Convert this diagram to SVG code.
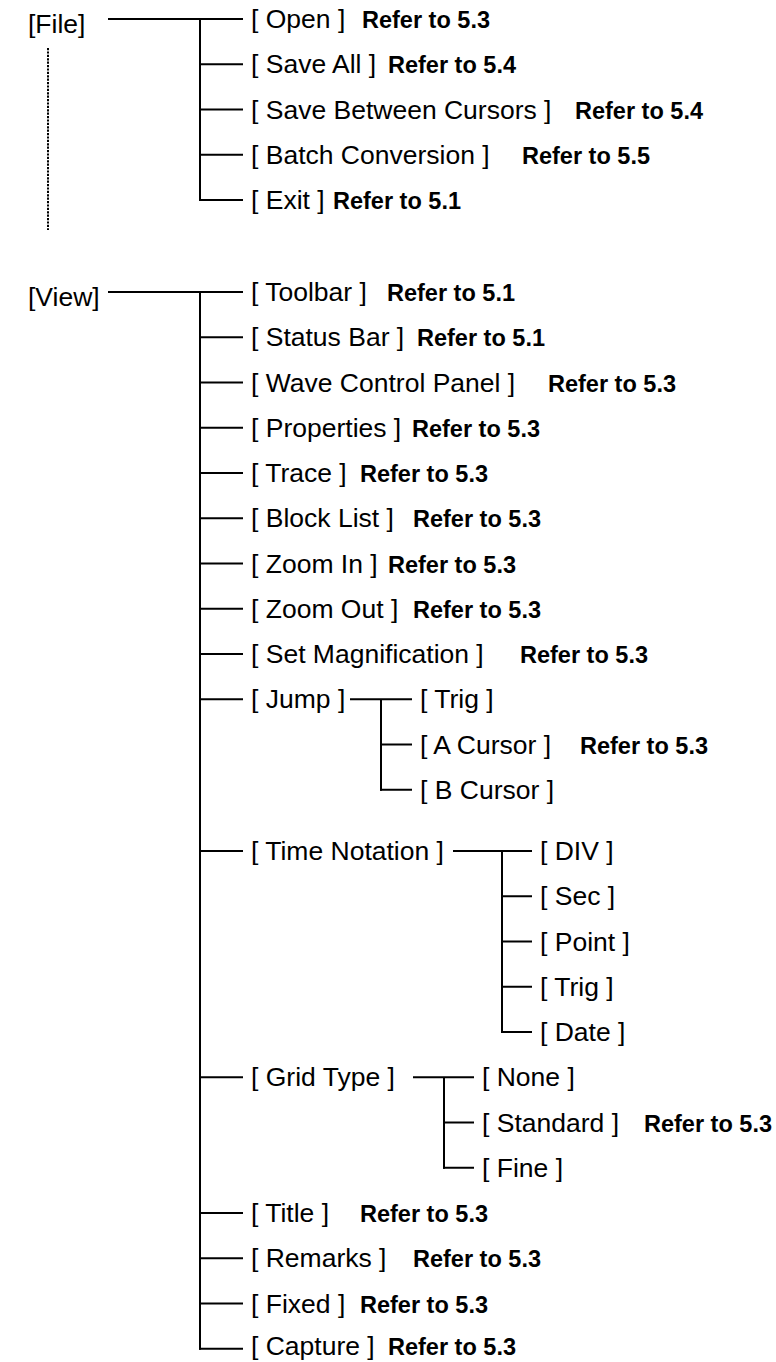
<svg xmlns="http://www.w3.org/2000/svg" width="776" height="1362" viewBox="0 0 776 1362">
<style>
text{font-family:"Liberation Sans",Arial,sans-serif;fill:#000}
.t{font-size:26.5px}
.r{font-size:23.5px;font-weight:bold}
.c line{stroke:#000;stroke-width:2;fill:none}
.c line.d{stroke-width:2;stroke-dasharray:2.2 1.2}
</style>
<rect width="776" height="1362" fill="#fff"/>
<g class="c" id="connectors">
<line x1="108" y1="19" x2="243" y2="19"/>
<line x1="200" y1="19" x2="200" y2="201"/>
<line x1="200" y1="64.25" x2="243" y2="64.25"/>
<line x1="200" y1="109.5" x2="243" y2="109.5"/>
<line x1="200" y1="154.75" x2="243" y2="154.75"/>
<line x1="199" y1="200" x2="243" y2="200"/>
<line class="d" x1="48" y1="48" x2="48" y2="230"/>
<line x1="108" y1="292" x2="243" y2="292"/>
<line x1="200" y1="292" x2="200" y2="1349.75"/>
<line x1="200" y1="337.25" x2="243" y2="337.25"/>
<line x1="200" y1="382.5" x2="243" y2="382.5"/>
<line x1="200" y1="427.75" x2="243" y2="427.75"/>
<line x1="200" y1="473" x2="243" y2="473"/>
<line x1="200" y1="518.25" x2="243" y2="518.25"/>
<line x1="200" y1="563.5" x2="243" y2="563.5"/>
<line x1="200" y1="608.75" x2="243" y2="608.75"/>
<line x1="200" y1="654" x2="243" y2="654"/>
<line x1="200" y1="699.25" x2="243" y2="699.25"/>
<line x1="350" y1="699.25" x2="412" y2="699.25"/>
<line x1="381" y1="699.25" x2="381" y2="790.75"/>
<line x1="381" y1="744.5" x2="412" y2="744.5"/>
<line x1="380" y1="789.75" x2="412" y2="789.75"/>
<line x1="200" y1="851" x2="243" y2="851"/>
<line x1="453" y1="851" x2="532" y2="851"/>
<line x1="502" y1="851" x2="502" y2="1033"/>
<line x1="502" y1="896.25" x2="532" y2="896.25"/>
<line x1="502" y1="941.5" x2="532" y2="941.5"/>
<line x1="502" y1="986.75" x2="532" y2="986.75"/>
<line x1="501" y1="1032" x2="532" y2="1032"/>
<line x1="200" y1="1077.25" x2="243" y2="1077.25"/>
<line x1="413" y1="1077.25" x2="474" y2="1077.25"/>
<line x1="444" y1="1077.25" x2="444" y2="1168.75"/>
<line x1="444" y1="1122.5" x2="474" y2="1122.5"/>
<line x1="443" y1="1167.75" x2="474" y2="1167.75"/>
<line x1="200" y1="1213" x2="243" y2="1213"/>
<line x1="200" y1="1258.25" x2="243" y2="1258.25"/>
<line x1="200" y1="1303.5" x2="243" y2="1303.5"/>
<line x1="199" y1="1348.75" x2="243" y2="1348.75"/>
</g>
<g id="file"><text class="t" x="28" y="33">[File]</text></g>
<g id="open"><text class="t" x="251" y="28">[ Open ]</text><text class="r" x="362" y="28">Refer to 5.3</text></g>
<g id="saveall"><text class="t" x="251" y="73.25">[ Save All ]</text><text class="r" x="388" y="73.25">Refer to 5.4</text></g>
<g id="savebetween"><text class="t" x="251" y="118.5">[ Save Between Cursors ]</text><text class="r" x="575" y="118.5">Refer to 5.4</text></g>
<g id="batch"><text class="t" x="251" y="163.75">[ Batch Conversion ]</text><text class="r" x="522" y="163.75">Refer to 5.5</text></g>
<g id="exit"><text class="t" x="251" y="209">[ Exit ]</text><text class="r" x="333" y="209">Refer to 5.1</text></g>
<g id="view"><text class="t" x="28" y="306">[View]</text></g>
<g id="toolbar"><text class="t" x="251" y="301">[ Toolbar ]</text><text class="r" x="387" y="301">Refer to 5.1</text></g>
<g id="statusbar"><text class="t" x="251" y="346.25">[ Status Bar ]</text><text class="r" x="417" y="346.25">Refer to 5.1</text></g>
<g id="wave"><text class="t" x="251" y="391.5">[ Wave Control Panel ]</text><text class="r" x="548" y="391.5">Refer to 5.3</text></g>
<g id="properties"><text class="t" x="251" y="436.75">[ Properties ]</text><text class="r" x="412" y="436.75">Refer to 5.3</text></g>
<g id="trace"><text class="t" x="251" y="482">[ Trace ]</text><text class="r" x="360" y="482">Refer to 5.3</text></g>
<g id="blocklist"><text class="t" x="251" y="527.25">[ Block List ]</text><text class="r" x="413" y="527.25">Refer to 5.3</text></g>
<g id="zoomin"><text class="t" x="251" y="572.5">[ Zoom In ]</text><text class="r" x="388" y="572.5">Refer to 5.3</text></g>
<g id="zoomout"><text class="t" x="251" y="617.75">[ Zoom Out ]</text><text class="r" x="413" y="617.75">Refer to 5.3</text></g>
<g id="setmag"><text class="t" x="251" y="663">[ Set Magnification ]</text><text class="r" x="520" y="663">Refer to 5.3</text></g>
<g id="jump"><text class="t" x="251" y="708.25">[ Jump ]</text></g>
<g id="jtrig"><text class="t" x="420" y="708.25">[ Trig ]</text></g>
<g id="acursor"><text class="t" x="420" y="753.5">[ A Cursor ]</text><text class="r" x="580" y="753.5">Refer to 5.3</text></g>
<g id="bcursor"><text class="t" x="420" y="798.75">[ B Cursor ]</text></g>
<g id="timenotation"><text class="t" x="251" y="860">[ Time Notation ]</text></g>
<g id="div"><text class="t" x="540" y="860">[ DIV ]</text></g>
<g id="sec"><text class="t" x="540" y="905.25">[ Sec ]</text></g>
<g id="point"><text class="t" x="540" y="950.5">[ Point ]</text></g>
<g id="ttrig"><text class="t" x="540" y="995.75">[ Trig ]</text></g>
<g id="date"><text class="t" x="540" y="1041">[ Date ]</text></g>
<g id="gridtype"><text class="t" x="251" y="1086.25">[ Grid Type ]</text></g>
<g id="none"><text class="t" x="482" y="1086.25">[ None ]</text></g>
<g id="standard"><text class="t" x="482" y="1131.5">[ Standard ]</text><text class="r" x="644" y="1131.5">Refer to 5.3</text></g>
<g id="fine"><text class="t" x="482" y="1176.75">[ Fine ]</text></g>
<g id="title"><text class="t" x="251" y="1222">[ Title ]</text><text class="r" x="360" y="1222">Refer to 5.3</text></g>
<g id="remarks"><text class="t" x="251" y="1267.25">[ Remarks ]</text><text class="r" x="413" y="1267.25">Refer to 5.3</text></g>
<g id="fixed"><text class="t" x="251" y="1312.5">[ Fixed ]</text><text class="r" x="360" y="1312.5">Refer to 5.3</text></g>
<g id="capture"><text class="t" x="251" y="1355.25">[ Capture ]</text><text class="r" x="388" y="1355.25">Refer to 5.3</text></g>
</svg>
